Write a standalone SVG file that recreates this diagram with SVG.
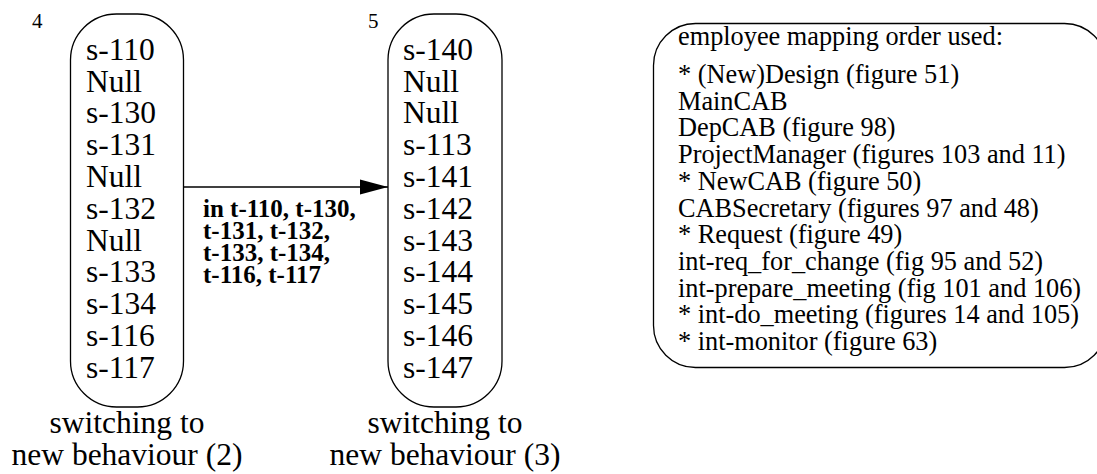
<svg xmlns="http://www.w3.org/2000/svg" width="1097" height="474" viewBox="0 0 1097 474">
<style>
.shape{fill:#fff;stroke:#000;stroke-width:1.3}
.t{font-family:'Liberation Serif','Times New Roman',Tinos,'DejaVu Serif','Noto Serif',serif;fill:#000}
.st{font-size:31.5px}
.num{font-size:21px}
.lbl{font-size:31.5px;text-anchor:middle}
.el{font-size:25px;font-weight:bold}
.bx{font-size:26.3px}
</style>
<defs>
<marker id="ah" markerWidth="28" markerHeight="16" refX="28" refY="8" orient="auto" markerUnits="userSpaceOnUse">
<path d="M0,0.5 L28,8 L0,15.5 Z" fill="#000"/>
</marker>
</defs>
<rect width="1097" height="474" fill="#fff"/>
<g id="connectors">
<line x1="184" y1="187" x2="388" y2="187" stroke="#000" stroke-width="1.3" marker-end="url(#ah)"/>
<text class="t el" x="203" y="217">in t-110, t-130,</text>
<text class="t el" x="203" y="239">t-131, t-132,</text>
<text class="t el" x="203" y="261">t-133, t-134,</text>
<text class="t el" x="203" y="283">t-116, t-117</text>
</g>
<g id="node4">
<text class="t num" x="32" y="28">4</text>
<rect class="shape" x="70.5" y="14" width="113" height="393" rx="46" ry="46"/>
<text class="t st" x="86" y="60">s-110</text>
<text class="t st" x="86" y="92">Null</text>
<text class="t st" x="86" y="123">s-130</text>
<text class="t st" x="86" y="155">s-131</text>
<text class="t st" x="86" y="187">Null</text>
<text class="t st" x="86" y="219">s-132</text>
<text class="t st" x="86" y="251">Null</text>
<text class="t st" x="86" y="282">s-133</text>
<text class="t st" x="86" y="314">s-134</text>
<text class="t st" x="86" y="346">s-116</text>
<text class="t st" x="86" y="378">s-117</text>
<text class="t lbl" x="127" y="433">switching to</text>
<text class="t lbl" x="127" y="465">new behaviour (2)</text>
</g>
<g id="node5">
<text class="t num" x="368" y="28">5</text>
<rect class="shape" x="388" y="14" width="114" height="393" rx="46" ry="46"/>
<text class="t st" x="403" y="60">s-140</text>
<text class="t st" x="403" y="92">Null</text>
<text class="t st" x="403" y="123">Null</text>
<text class="t st" x="403" y="155">s-113</text>
<text class="t st" x="403" y="187">s-141</text>
<text class="t st" x="403" y="219">s-142</text>
<text class="t st" x="403" y="251">s-143</text>
<text class="t st" x="403" y="282">s-144</text>
<text class="t st" x="403" y="314">s-145</text>
<text class="t st" x="403" y="346">s-146</text>
<text class="t st" x="403" y="378">s-147</text>
<text class="t lbl" x="445" y="433">switching to</text>
<text class="t lbl" x="445" y="465">new behaviour (3)</text>
</g>
<g id="legend">
<rect class="shape" x="653.5" y="23.5" width="453" height="344" rx="42" ry="42"/>
<text class="t bx" x="678" y="45">employee mapping order used:</text>
<text class="t bx" x="678" y="83">* (New)Design (figure 51)</text>
<text class="t bx" x="678" y="109.7">MainCAB</text>
<text class="t bx" x="678" y="136.4">DepCAB (figure 98)</text>
<text class="t bx" x="678" y="163.1">ProjectManager (figures 103 and 11)</text>
<text class="t bx" x="678" y="189.8">* NewCAB (figure 50)</text>
<text class="t bx" x="678" y="216.5">CABSecretary (figures 97 and 48)</text>
<text class="t bx" x="678" y="243.2">* Request (figure 49)</text>
<text class="t bx" x="678" y="269.9">int-req_for_change (fig 95 and 52)</text>
<text class="t bx" x="678" y="296.6">int-prepare_meeting (fig 101 and 106)</text>
<text class="t bx" x="678" y="323.3">* int-do_meeting (figures 14 and 105)</text>
<text class="t bx" x="678" y="350">* int-monitor (figure 63)</text>
</g>
</svg>
